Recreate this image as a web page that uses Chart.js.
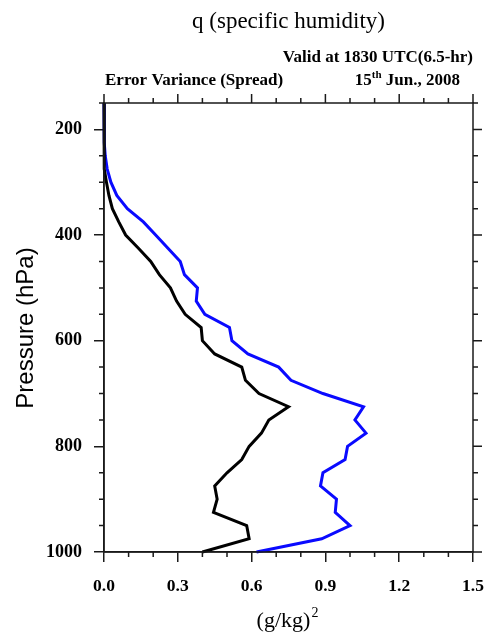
<!DOCTYPE html>
<html><head><meta charset="utf-8">
<script src="https://cdn.jsdelivr.net/npm/chart.js@4.4.1/dist/chart.umd.min.js"></script>
<style>html,body{margin:0;padding:0;background:#fff;} canvas{display:block;}</style>
</head><body>
<canvas id="c" width="485" height="636"></canvas>
<script>
// ---- data ----
const pressureLevels = [150,175,200,225,250,275,300,325,350,375,400,425,450,475,500,525,550,575,600,625,650,675,700,725,750,775,800,825,850,875,900,925,950,975,1000];
const seriesBlack = [0,0,0,0,0.001,0.004,0.01,0.02,0.034,0.06,0.088,0.14,0.19,0.225,0.27,0.295,0.33,0.395,0.40,0.45,0.56,0.575,0.63,0.75,0.67,0.64,0.59,0.56,0.50,0.45,0.46,0.445,0.58,0.59,0.40];
const seriesBlue  = [0,0,0.001,0.002,0.005,0.013,0.028,0.052,0.095,0.16,0.21,0.26,0.31,0.327,0.38,0.375,0.41,0.51,0.52,0.585,0.71,0.76,0.89,1.055,1.02,1.065,0.99,0.98,0.89,0.88,0.945,0.94,1.0,0.885,0.62];
const xTickValues = [0, 0.3, 0.6, 0.9, 1.2, 1.5];
const yTickValues = [200, 400, 600, 800, 1000];
const xMinorStep = 0.1;
const yMinorStep = 50;

const titleText = 'q (specific humidity)';
const validText = 'Valid at 1830 UTC(6.5-hr)';
const leftSubText = 'Error Variance (Spread)';
const yTitle = 'Pressure (hPa)';

const toPoints = (vals) => vals.map((v, i) => ({ x: v, y: pressureLevels[i] }));

const SERIF = '"Liberation Serif", "Times New Roman", serif';
const SANS = '"Liberation Sans", Arial, sans-serif';
const AXIS = '#1a1a1a';

const decor = {
  id: 'decor',
  afterDraw(chart) {
    const { ctx, chartArea: a, scales: { x, y } } = chart;
    ctx.save();
    // frame
    ctx.strokeStyle = AXIS; ctx.lineWidth = 1.5;
    ctx.strokeRect(a.left, a.top, a.right - a.left, a.bottom - a.top);
    // extra ticks
    ctx.beginPath();
    const nx = Math.round((x.max - x.min) / xMinorStep);
    for (let i = 0; i <= nx; i++) {
      const v = x.min + i * xMinorStep;
      const px = x.getPixelForValue(v);
      const major = xTickValues.some(t => Math.abs(t - v) < 1e-6);
      const L = major ? 9 : 5;
      ctx.moveTo(px, a.top); ctx.lineTo(px, a.top - L);
      if (!major) { ctx.moveTo(px, a.bottom); ctx.lineTo(px, a.bottom + 5); }
    }
    for (let p = y.min; p <= y.max; p += yMinorStep) {
      const py = y.getPixelForValue(p);
      const major = yTickValues.includes(p);
      const L = major ? 9 : 5;
      ctx.moveTo(a.right, py); ctx.lineTo(a.right + L, py);
      if (!major) { ctx.moveTo(a.left, py); ctx.lineTo(a.left - 5, py); }
    }
    ctx.stroke();

    ctx.fillStyle = '#000';
    ctx.textBaseline = 'alphabetic';
    // title
    ctx.font = '23px ' + SERIF;
    ctx.textAlign = 'center';
    ctx.fillText(titleText, (a.left + a.right) / 2, 28);
    // subtitles
    ctx.font = 'bold 17px ' + SERIF;
    ctx.textAlign = 'right';
    ctx.fillText(validText, a.right, 62);
    ctx.textAlign = 'left';
    ctx.fillText(leftSubText, a.left + 1, 85);
    // date with superscript
    const big = 'bold 17px ' + SERIF, small = 'bold 11px ' + SERIF;
    ctx.font = big; const w1 = ctx.measureText('15').width; const w3 = ctx.measureText(' Jun., 2008').width;
    ctx.font = small; const w2 = ctx.measureText('th').width;
    let sx = 460 - (w1 + w2 + w3);
    ctx.font = big; ctx.fillText('15', sx, 85); sx += w1;
    ctx.font = small; ctx.fillText('th', sx, 78); sx += w2;
    ctx.font = big; ctx.fillText(' Jun., 2008', sx, 85);
    // x title with superscript
    const xf = '22px ' + SERIF, xs = '14px ' + SERIF;
    ctx.font = xf; const u1 = ctx.measureText('(g/kg)').width;
    ctx.font = xs; const u2 = ctx.measureText('2').width;
    let ux = 287 - (u1 + u2) / 2;
    ctx.font = xf; ctx.fillText('(g/kg)', ux, 627);
    ctx.font = xs; ctx.fillText('2', ux + u1 + 1, 617);
    // y title
    ctx.save();
    ctx.translate(33, 328);
    ctx.rotate(-Math.PI / 2);
    ctx.textAlign = 'center';
    ctx.font = '24px ' + SANS;
    ctx.fillText(yTitle, 0, 0);
    ctx.restore();
    ctx.restore();
  }
};

new Chart(document.getElementById('c'), {
  type: 'line',
  data: {
    datasets: [
      { label: 'black', data: toPoints(seriesBlack), borderColor: '#000000', borderWidth: 3, pointRadius: 0, tension: 0, clip: 4, fill: false },
      { label: 'blue', data: toPoints(seriesBlue), borderColor: '#0a0aff', borderWidth: 3, pointRadius: 0, tension: 0, clip: 4, fill: false }
    ]
  },
  options: {
    responsive: false,
    animation: false,
    layout: { padding: { top: 103, right: 12, left: 0, bottom: 0 } },
    plugins: { legend: { display: false }, tooltip: { enabled: false }, title: { display: false } },
    scales: {
      x: {
        type: 'linear', position: 'bottom', min: 0, max: 1.5,
        afterBuildTicks: s => { s.ticks = xTickValues.map(v => ({ value: v })); },
        afterFit: s => { s.height = 84; s.paddingRight = 0; s.paddingLeft = 0; },
        ticks: { font: { family: SERIF, size: 17.5, weight: 'bold' }, color: '#000', padding: 14, maxRotation: 0, autoSkip: false, callback: v => Number(v).toFixed(1) },
        grid: { drawOnChartArea: false, tickLength: 10, color: AXIS, lineWidth: 1.5 },
        border: { display: true, color: AXIS, width: 1.5 }
      },
      y: {
        type: 'linear', position: 'left', min: 150, max: 1000, reverse: true,
        afterBuildTicks: s => { s.ticks = yTickValues.map(v => ({ value: v })); },
        afterFit: s => { s.width = 104; s.paddingTop = 0; s.paddingBottom = 0; },
        ticks: { font: { family: SERIF, size: 18, weight: 'bold' }, color: '#000', padding: 12, autoSkip: false, callback: v => String(v) },
        grid: { drawOnChartArea: false, tickLength: 10, color: AXIS, lineWidth: 1.5 },
        border: { display: true, color: AXIS, width: 1.5 }
      }
    }
  },
  plugins: [decor]
});
</script>
</body></html>
